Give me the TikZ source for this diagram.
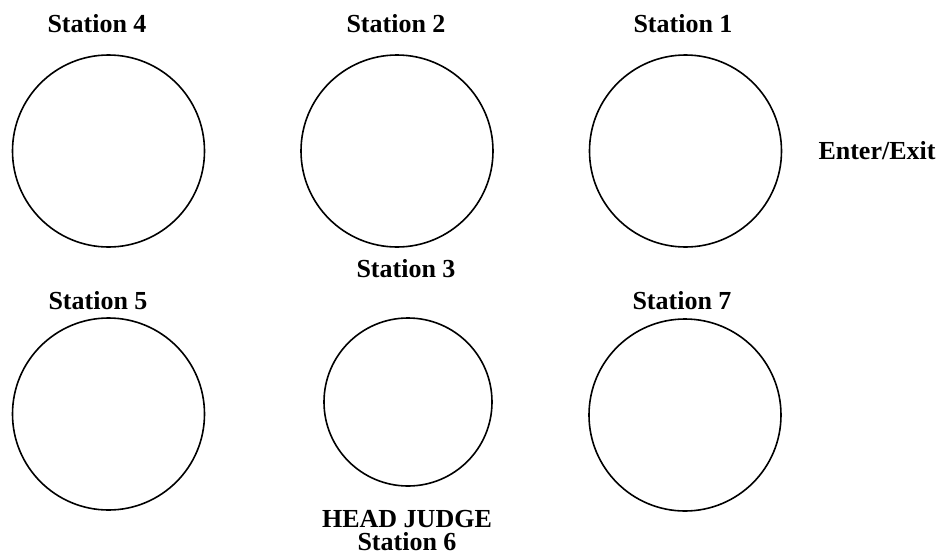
\documentclass[tikz,border=0pt]{standalone}
\usepackage{fontspec}
\setmainfont{Liberation Serif}[BoldFont={Liberation Serif Bold}]
\begin{document}
\begin{tikzpicture}[x=1pt,y=-1pt,
  station/.style={draw=black,line width=1.6pt,circle,inner sep=0pt},
  lbl/.style={font=\fontsize{26}{23}\selectfont\bfseries,anchor=base,inner sep=0pt,align=center}]
\useasboundingbox (0,0) rectangle (938,555);
% station circles
\node[station,minimum size=192pt] (c4) at (108.5,151) {};
\node[station,minimum size=192pt] (c2) at (397,151) {};
\node[station,minimum size=192pt] (c1) at (685.5,151) {};
\node[station,minimum size=192pt] (c5) at (108.5,414) {};
\node[station,minimum size=168pt] (c3) at (408,402) {};
\node[station,minimum size=192pt] (c7) at (685,415) {};
% labels
\node[lbl] (l4) at (97,32) {Station 4};
\node[lbl] (l2) at (396,32) {Station 2};
\node[lbl] (l1) at (683,32) {Station 1};
\node[lbl] (lx) at (877,159) {Enter/Exit};
\node[lbl] (l3) at (406,277) {Station 3};
\node[lbl] (l5) at (98,309) {Station 5};
\node[lbl] (l7) at (682,309) {Station 7};
% two-line label; the base anchor sits on the last line
\node[lbl] (lh) at (407,550) {HEAD JUDGE\\Station 6};
\end{tikzpicture}
\end{document}
